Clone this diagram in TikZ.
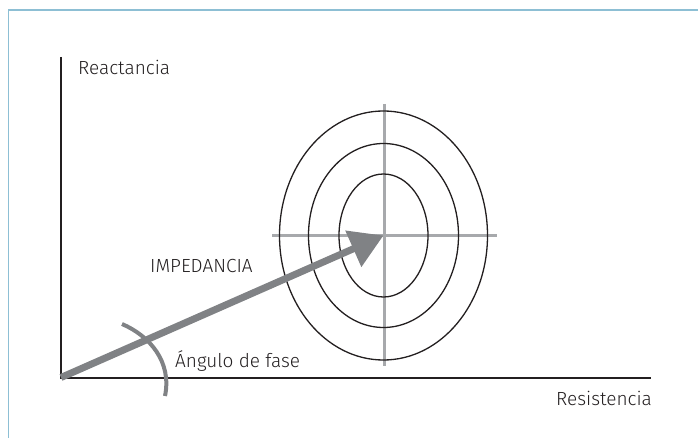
\documentclass[tikz,border=0pt]{standalone}
\usepackage{fontspec}
\setmainfont{Fira Sans Light}
\definecolor{framebl}{HTML}{8DBFD4}
\definecolor{axisgr}{HTML}{231F20}
\definecolor{vecgr}{HTML}{808285}
\definecolor{crossgr}{HTML}{A7A9AC}
\usetikzlibrary{arrows.meta}

\begin{document}
\begin{tikzpicture}[x=1pt,y=-1pt,
  lbl/.style={inner sep=0pt,anchor=base west,text=axisgr,
    font=\fontsize{19}{21}\selectfont},
  ring/.style={line width=1.3pt,axisgr}]
  \useasboundingbox (0,0) rectangle (698,438);
  \draw[framebl,line width=1.5pt]
    (8.5,438) -- (8.5,10) -- (698,10);
  \coordinate (O) at (61,377.5);
  \coordinate (C) at (383.5,235.5);
  \coordinate (ytop) at (61,57);
  \coordinate (xend) at (651,377.5);
  \draw[crossgr,line width=3pt]
    (272,235.5) -- (497,235.5);
  \draw[crossgr,line width=3pt]
    (384,104) -- (384,366);
  \draw[ring] (C) ellipse [x radius=44.5,y radius=61.5];
  \draw[ring] (C) ellipse [x radius=75,y radius=92];
  \draw[ring] (C) ellipse [x radius=104,y radius=124.5];
  \draw[axisgr,line width=2pt]
    (ytop) -- (O) -- (xend);
  \draw[vecgr,line width=4pt]
    (122,324) .. controls (150,336) and (172,362) .. (165,396);
  \draw[vecgr,line width=7pt,-{Triangle[length=33pt,width=38pt]}]
    (O) -- (C);
  \node[lbl] (react) at (78,75) {Reactancia};
  \node[lbl] (imped) at (150,272) {IMPEDANCIA};
  \node[lbl] (fase) at (175,367) {Ángulo de fase};
  \node[lbl,anchor=base east] (resist) at (652,405) {Resistencia};
\end{tikzpicture}
\end{document}
